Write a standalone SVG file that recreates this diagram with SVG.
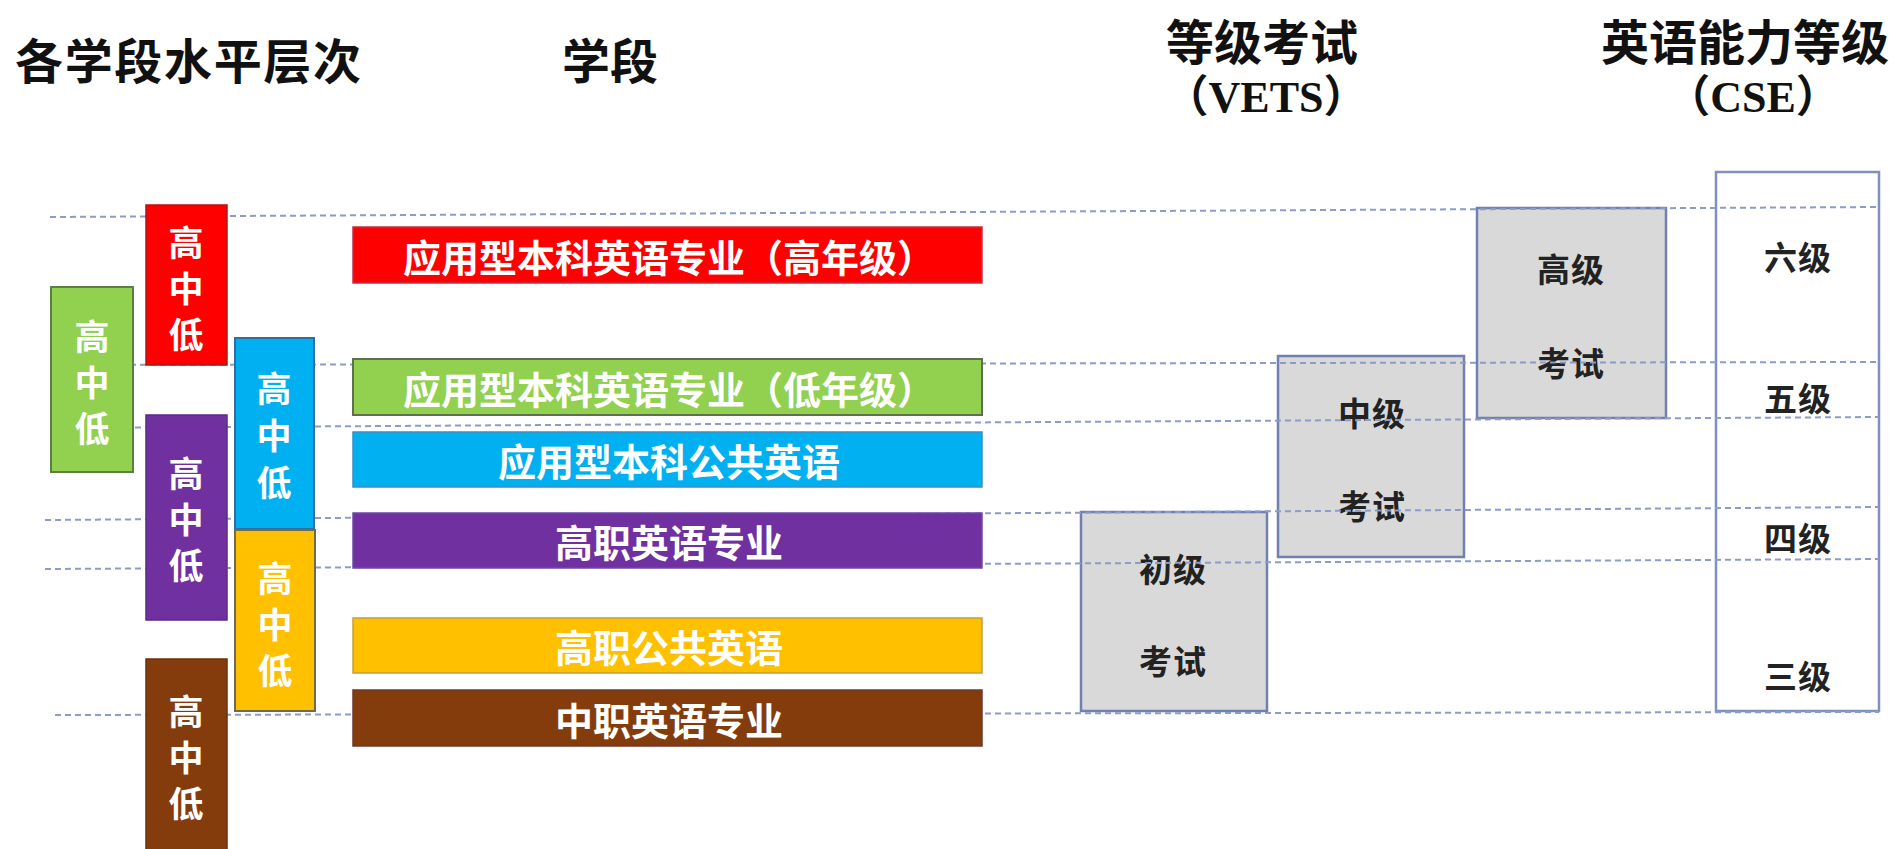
<svg xmlns="http://www.w3.org/2000/svg" width="1904" height="849" viewBox="0 0 1904 849">
<style>
.hdr{font-family:"Noto Sans CJK SC","Liberation Sans",sans-serif;font-size:48px;font-weight:bold;fill:#111;dominant-baseline:central}
.abbr{font-family:"Liberation Serif","Noto Sans CJK SC",serif;font-size:44px;font-weight:bold;fill:#111;dominant-baseline:central;text-anchor:middle}
.bar{font-family:"Noto Sans CJK SC","Liberation Sans",sans-serif;font-size:38px;font-weight:bold;fill:#fff;text-anchor:middle;dominant-baseline:central}
.tall{font-family:"Noto Sans CJK SC","Liberation Sans",sans-serif;font-size:35px;font-weight:bold;fill:#fff;text-anchor:middle;dominant-baseline:central}
.gl{font-family:"Noto Sans CJK SC","Liberation Sans",sans-serif;font-size:33px;font-weight:bold;fill:#222;text-anchor:middle;dominant-baseline:central;letter-spacing:1px}
.gray{fill:#D9D9D9;stroke:#7080B0;stroke-width:2.5}
.cse{fill:#fff;stroke:#7F8FBF;stroke-width:2.5}
.dash{fill:none;stroke:#8D9BC6;stroke-width:2;stroke-dasharray:6 4}
</style>
<rect width="1904" height="849" fill="#fff"/>

<g id="headers">
<text class="hdr" x="15" y="58" textLength="346" lengthAdjust="spacing">各学段水平层次</text>
<text class="hdr" x="562" y="58">学段</text>
<text class="hdr" x="1262" y="39" text-anchor="middle">等级考试</text>
<text class="abbr" x="1266" y="97">（VETS）</text>
<text class="hdr" x="1745" y="39" text-anchor="middle">英语能力等级</text>
<text class="abbr" x="1753" y="97">（CSE）</text>
</g>

<g id="exam-primary"><rect class="gray" x="1081" y="512" width="186" height="199"/>
<text class="gl" x="1173" y="568">初级</text><text class="gl" x="1173" y="660">考试</text></g>
<g id="exam-intermediate"><rect class="gray" x="1278" y="356" width="186" height="201"/>
<text class="gl" x="1372" y="412">中级</text><text class="gl" x="1372" y="505">考试</text></g>
<g id="exam-advanced"><rect class="gray" x="1477" y="208" width="189" height="210"/>
<text class="gl" x="1571" y="268">高级</text><text class="gl" x="1571" y="362">考试</text></g>
<g id="cse-levels"><rect class="cse" x="1716" y="172" width="163" height="539"/>
<text class="gl" x="1798" y="256">六级</text>
<text class="gl" x="1798" y="397">五级</text>
<text class="gl" x="1798" y="537">四级</text>
<text class="gl" x="1798" y="675">三级</text></g>

<g id="connectors">
<path class="dash" d="M50,217 L1879,207"/>
<path class="dash" d="M50,365 L1879,362"/>
<path class="dash" d="M55,428 L1879,417"/>
<path class="dash" d="M45,520 L1879,507"/>
<path class="dash" d="M45,569 L1879,559"/>
<path class="dash" d="M55,715 L1879,712"/>
</g>

<g id="level-green"><rect x="51" y="287" width="82" height="185" fill="#92D050" stroke="#5E7F44" stroke-width="2"/>
<text class="tall" x="92" y="334">高</text><text class="tall" x="92" y="380">中</text><text class="tall" x="92" y="426">低</text></g>
<g id="level-red"><rect x="146" y="205" width="81" height="160" fill="#FF0000" stroke="#B31414" stroke-width="1.5"/>
<text class="tall" x="186" y="240">高</text><text class="tall" x="186" y="286">中</text><text class="tall" x="186" y="332">低</text></g>
<g id="level-purple"><rect x="146" y="415" width="81" height="205" fill="#7030A0" stroke="#5A2A86" stroke-width="1.5"/>
<text class="tall" x="186" y="471">高</text><text class="tall" x="186" y="517">中</text><text class="tall" x="186" y="563">低</text></g>
<g id="level-brown"><rect x="146" y="659" width="81" height="195" fill="#843C0C" stroke="#6A300A" stroke-width="1.5"/>
<text class="tall" x="186" y="709">高</text><text class="tall" x="186" y="755">中</text><text class="tall" x="186" y="801">低</text></g>
<g id="level-blue"><rect x="235" y="338" width="79" height="191" fill="#00B0F0" stroke="#2E6F9E" stroke-width="2"/>
<text class="tall" x="274" y="386">高</text><text class="tall" x="274" y="433">中</text><text class="tall" x="274" y="480">低</text></g>
<g id="level-yellow"><rect x="235" y="530" width="80" height="181" fill="#FFC000" stroke="#6F6A50" stroke-width="2"/>
<text class="tall" x="275" y="576">高</text><text class="tall" x="275" y="622">中</text><text class="tall" x="275" y="668">低</text></g>

<g id="bar-red"><rect x="353" y="227" width="629" height="56" fill="#FF0000" stroke="#C0304A" stroke-width="1.5"/>
<text class="bar" x="669" y="255">应用型本科英语专业（高年级）</text></g>
<g id="bar-green"><rect x="353" y="359" width="629" height="56" fill="#92D050" stroke="#5E7050" stroke-width="2"/>
<text class="bar" x="669" y="387">应用型本科英语专业（低年级）</text></g>
<g id="bar-blue"><rect x="353" y="432" width="629" height="55" fill="#00B0F0" stroke="#3A8FC0" stroke-width="1.5"/>
<text class="bar" x="669" y="459">应用型本科公共英语</text></g>
<g id="bar-purple"><rect x="353" y="513" width="629" height="55" fill="#7030A0" stroke="#6A4AA8" stroke-width="1.5"/>
<text class="bar" x="669" y="540">高职英语专业</text></g>
<g id="bar-yellow"><rect x="353" y="618" width="629" height="55" fill="#FFC000" stroke="#C0A040" stroke-width="1.5"/>
<text class="bar" x="669" y="645">高职公共英语</text></g>
<g id="bar-brown"><rect x="353" y="690" width="629" height="56" fill="#843C0C" stroke="#6A3A30" stroke-width="1.5"/>
<text class="bar" x="669" y="718">中职英语专业</text></g>
</svg>
